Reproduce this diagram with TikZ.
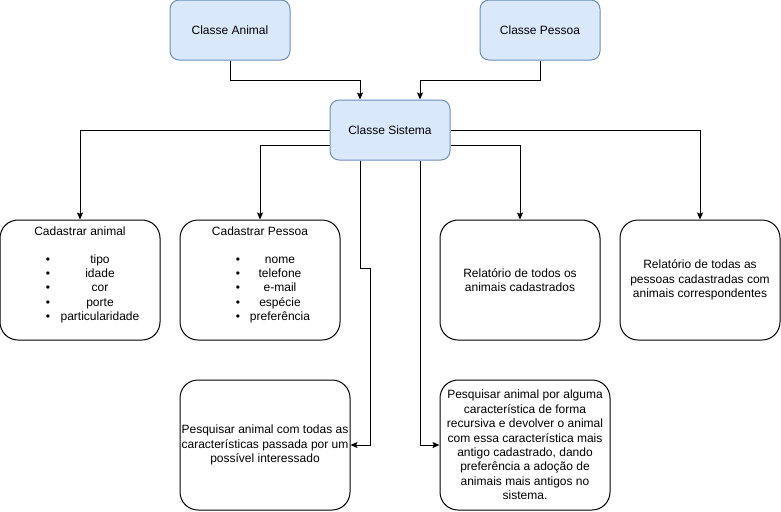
\documentclass[tikz,border=0pt]{standalone}
\usepackage{fontspec}
\setmainfont{Liberation Sans}
\usetikzlibrary{arrows.meta,positioning}
\definecolor{classfill}{HTML}{DAE8FC}
\definecolor{classdraw}{HTML}{6C8EBF}

\begin{document}
\begin{tikzpicture}[
    x=0.75pt, y=-0.75pt,
    line width=0.75pt,
    font=\fontsize{9}{10.8}\selectfont,
    classnode/.style={draw=classdraw, fill=classfill, rounded corners=6.75pt, minimum width=90pt, minimum height=45pt, inner sep=0pt},
    tasknode/.style={draw=black, rounded corners=13.5pt, minimum width=120pt, minimum height=90pt, inner sep=0pt, align=center},
    searchnode/.style={tasknode, minimum width=127.5pt, minimum height=97.5pt},
    itemnode/.style={inner sep=0pt, anchor=base},
    link/.style={-{Stealth[length=5.25pt, width=4.5pt, inset=1pt]}}
]
\useasboundingbox (0,0) rectangle (781,511);

% Classes
\node[classnode] (animal) at (230,30) {Classe Animal};
\node[classnode] (pessoa) at (540,30) {Classe Pessoa};
\node[classnode] (sistema) at (390,130) {Classe Sistema};

% Functions - first row
\node[tasknode] (cadanimal) at (80,280) {};
\node[tasknode] (cadpessoa) at (260,280) {};
\node[tasknode] (relanimal) at (520,280) {Relatório de todos os\\animais cadastrados};
\node[tasknode] (relpessoa) at (700,280) {Relatório de todas as\\pessoas cadastradas com\\animais correspondentes};

% Cadastrar animal - title and list
\node[itemnode] (tanimal) at (80,235) {Cadastrar animal};
\foreach \y/\t [count=\i] in {263/tipo, 277.3/idade, 291.6/cor, 306/porte, 320.3/particularidade} {
    \node[itemnode] (ba\i) at (48,\y) {\textbullet};
    \node[itemnode] (ia\i) at (100,\y) {\t};
}

% Cadastrar Pessoa - title and list
\node[itemnode] (tpessoa) at (260,235) {Cadastrar Pessoa};
\foreach \y/\t [count=\i] in {263/nome, 277.3/telefone, 291.6/e-mail, 306/espécie, 320.3/preferência} {
    \node[itemnode] (bp\i) at (238,\y) {\textbullet};
    \node[itemnode] (ip\i) at (280,\y) {\t};
}

% Functions - second row
\node[searchnode] (busca) at (265,445) {Pesquisar animal com todas as\\características passada por um\\possível interessado};
\node[searchnode] (buscarec) at (525,445) {Pesquisar animal por alguma\\característica de forma\\recursiva e devolver o animal\\com essa característica mais\\antigo cadastrado, dando\\preferência a adoção de\\animais mais antigos no\\sistema.};

% Classes into Sistema
\draw[link] (animal.south) -- ++(0,20) -| ([xshift=-22.5pt]sistema.north);
\draw[link] (pessoa.south) -- ++(0,20) -| ([xshift=22.5pt]sistema.north);

% Sistema to functions
\draw[link] (sistema.west) -| (cadanimal.north);
\draw[link] ([yshift=-11.25pt]sistema.west) -| (cadpessoa.north);
\draw[link] ([yshift=-11.25pt]sistema.east) -| (relanimal.north);
\draw[link] (sistema.east) -| (relpessoa.north);
\draw[link] ([xshift=-22.5pt]sistema.south) -- ++(0,108) -- ++(10,0) |- (busca.east);
\draw[link] ([xshift=22.5pt]sistema.south) |- (buscarec.west);

\end{tikzpicture}
\end{document}
